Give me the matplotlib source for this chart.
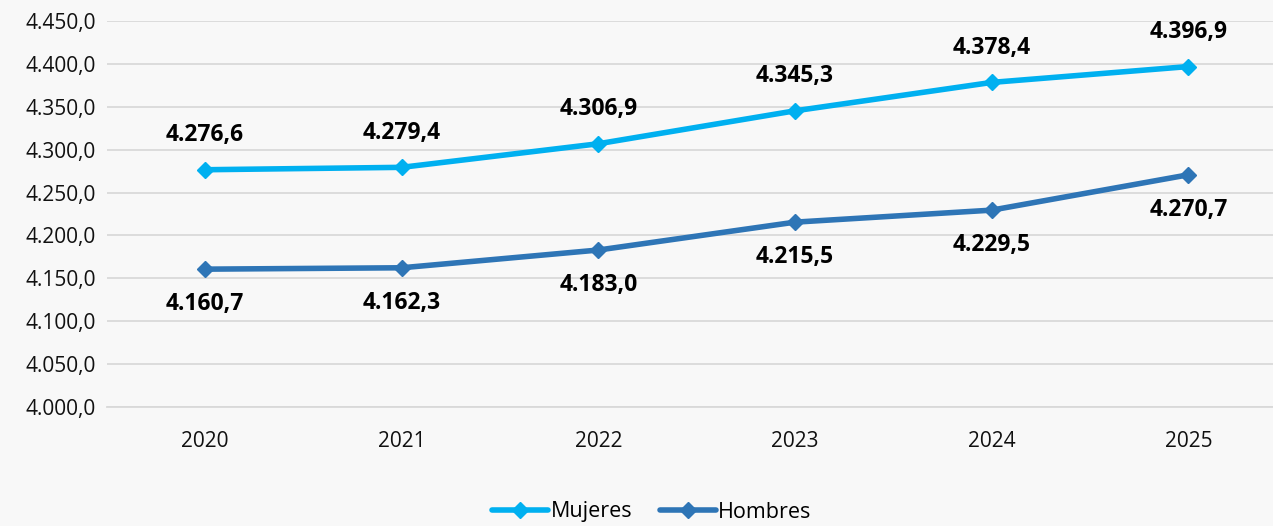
import matplotlib.pyplot as plt
from matplotlib.ticker import FuncFormatter

years = ['2020', '2021', '2022', '2023', '2024', '2025']
mujeres = [4276.6, 4279.4, 4306.9, 4345.3, 4378.4, 4396.9]
hombres = [4160.7, 4162.3, 4183.0, 4215.5, 4229.5, 4270.7]

plt.rcParams['font.family'] = ['Open Sans', 'DejaVu Sans']

def es_fmt(v, pos=None):
    s = '{:,.1f}'.format(v)
    return s.replace(',', 'X').replace('.', ',').replace('X', '.')

W, H = 1273, 526
fig = plt.figure(figsize=(W / 100, H / 100), dpi=100)
fig.patch.set_facecolor('#f8f8f8')
# axes runs past the right edge, as in the original crop
ax = fig.add_axes([106.7 / W, (H - 407) / H, 1180 / W, 386 / H])
ax.set_facecolor('#f8f8f8')

x = list(range(len(years)))
ax.plot(x, mujeres, color='#00b0f0', lw=4, marker='D', ms=8, label='Mujeres',
        solid_capstyle='round')
ax.plot(x, hombres, color='#2e75b6', lw=4, marker='D', ms=8, label='Hombres',
        solid_capstyle='round')

for i, v in enumerate(mujeres):
    ax.annotate(es_fmt(v), (i, v), xytext=(0, 25), textcoords='offset points',
                ha='center', va='center', fontsize=16.5, fontweight='bold')
for i, v in enumerate(hombres):
    ax.annotate(es_fmt(v), (i, v), xytext=(0, -25), textcoords='offset points',
                ha='center', va='center', fontsize=16.5, fontweight='bold')

ax.set_xlim(-0.5, 5.5)
ax.set_ylim(4000, 4450)
ax.set_yticks(range(4000, 4451, 50))
ax.yaxis.set_major_formatter(FuncFormatter(es_fmt))
ax.set_xticks(x)
ax.set_xticklabels(years)
ax.tick_params(length=0, labelsize=15, colors='#111111')
ax.tick_params(axis='x', pad=17)
ax.tick_params(axis='y', pad=8)
ax.grid(axis='y', color='#d9d9d9', lw=1.3)
ax.set_axisbelow(True)
for s in ['top', 'right', 'left']:
    ax.spines[s].set_visible(False)
ax.spines['bottom'].set_color('#d9d9d9')
ax.spines['bottom'].set_linewidth(1.3)

fig.legend(loc='center', bbox_to_anchor=(652 / W, (H - 512) / H), ncol=2,
           frameon=False, fontsize=15.5, handlelength=2.6, handletextpad=0.1,
           columnspacing=1.3)

plt.savefig('out.png', dpi=100, facecolor=fig.get_facecolor())
